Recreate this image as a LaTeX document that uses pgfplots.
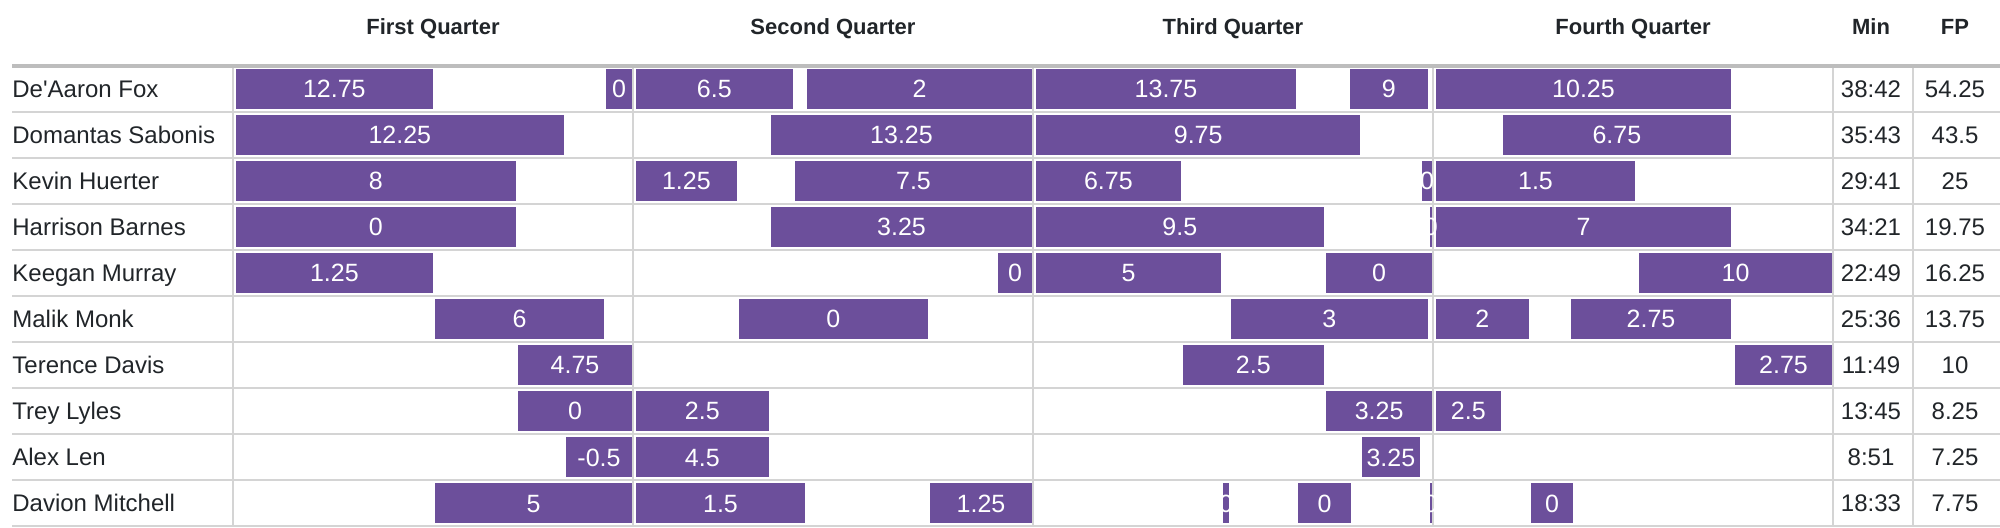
\documentclass[border=0pt]{standalone}
\usepackage{fontspec}
\setmainfont{Liberation Sans}
\newfontfamily\plain{Liberation Sans}
\usepackage{pgfplots}
\usepackage{pgfplotstable}
\pgfplotsset{compat=1.18}

\definecolor{barpurple}{RGB}{108,79,155}
\definecolor{gridgray}{RGB}{212,212,212}
\definecolor{topgray}{RGB}{189,189,189}
\definecolor{textdark}{RGB}{33,37,41}

% one stint per line: row, start and end in game minutes, fantasy points
\pgfplotstableread{
row start end fp
1 0 6.02 12.75
1 11.10 12 0
1 12 16.82 6.5
1 17.13 24 2
1 24 31.92 13.75
1 33.42 35.87 9
1 36 44.97 10.25
2 0 9.95 12.25
2 16.05 24 13.25
2 24 33.85 9.75
2 38.0 44.97 6.75
3 0 8.51 8
3 12 15.14 1.25
3 16.77 24 7.5
3 24 28.46 6.75
3 35.58 36 0
3 36 42.09 1.5
4 0 8.51 0
4 16.05 24 3.25
4 24 32.75 9.5
4 35.81 36 0
4 36 44.97 7
5 0 6.02 1.25
5 22.86 24 0
5 24 29.67 5
5 32.71 36 0
5 42.09 48 10
6 5.97 11.16 6
6 15.09 20.87 0
6 29.85 35.87 3
6 36 38.90 2
6 40.05 44.97 2.75
7 8.46 12 4.75
7 28.41 32.75 2.5
7 44.97 48 2.75
8 8.46 12 0
8 12 16.10 2.5
8 32.71 36 3.25
8 36 38.06 2.5
9 9.90 12 -0.5
9 12 16.10 4.5
9 33.78 35.63 3.25
10 5.97 12 5
10 12 17.19 1.5
10 20.82 24 1.25
10 29.61 29.91 0
10 31.86 33.58 0
10 35.81 36 0
10 38.86 40.23 0
}\stints

\pgfplotstableread[col sep=comma]{
row,name,min,fp
1,De'Aaron Fox,38:42,54.25
2,Domantas Sabonis,35:43,43.5
3,Kevin Huerter,29:41,25
4,Harrison Barnes,34:21,19.75
5,Keegan Murray,22:49,16.25
6,Malik Monk,25:36,13.75
7,Terence Davis,11:49,10
8,Trey Lyles,13:45,8.25
9,Alex Len,8:51,7.25
10,Davion Mitchell,18:33,7.75
}\players

\begin{document}
\plain
\begin{tikzpicture}
\path[use as bounding box] (-6pt,-1pt) rectangle (994pt,263pt);
\begin{axis}[
    at={(0,0)}, anchor=south west,
    width=994pt, height=230pt, scale only axis,
    xmin=-6.63, xmax=53.01,
    ymin=0.5, ymax=10.5, y dir=reverse,
    axis line style={draw=none},
    major tick length=0pt,
    xtick={0,12,24,36,48,50.4}, xticklabels={},
    ytick={1.5,2.5,...,10.5}, yticklabels={},
    extra y ticks={0.5}, extra y tick labels={},
    extra y tick style={grid style={draw=topgray, line width=1.6pt}},
    xmajorgrids, ymajorgrids,
    grid style={draw=gridgray, line width=1.2pt},
    axis on top, clip=false,
]
% stints: horizontal bars drawn as thick x error bars
\addplot [draw=none, mark=none,
    error bars/.cd, x dir=both, x explicit, error mark=none,
    error bar style={line width=19.85pt, draw=barpurple}]
    table [x expr={(\thisrow{start}+\thisrow{end}+0.06)/2}, y=row,
           x error expr={(\thisrow{end}-\thisrow{start}-0.12)/2}] {\stints};
% fantasy points of each stint
\addplot [only marks, mark=none, point meta=explicit symbolic, nodes near coords,
    every node near coord/.append style={anchor=base, yshift=-4.5pt, inner sep=0pt,
        text=white, font=\fontsize{12.5}{14}\selectfont}]
    table [x expr={(\thisrow{start}+\thisrow{end}+0.06)/2}, y=row, meta=fp] {\stints};
% player names
\addplot [only marks, mark=none, point meta=explicit symbolic, nodes near coords,
    every node near coord/.append style={anchor=base west, yshift=-4.3pt, inner sep=0pt,
        text=textdark, font=\fontsize{12}{14}\selectfont}]
    table [x expr={-6.63}, y=row, meta=name] {\players};
% minutes and total
\addplot [only marks, mark=none, point meta=explicit symbolic, nodes near coords,
    every node near coord/.append style={anchor=base, yshift=-4.3pt, inner sep=0pt,
        text=textdark, font=\fontsize{12}{14}\selectfont}]
    table [x expr={49.14}, y=row, meta=min] {\players};
\addplot [only marks, mark=none, point meta=explicit symbolic, nodes near coords,
    every node near coord/.append style={anchor=base, yshift=-4.3pt, inner sep=0pt,
        text=textdark, font=\fontsize{12}{14}\selectfont}]
    table [x expr={51.66}, y=row, meta=fp] {\players};
% column headers
\addplot [only marks, mark=none, point meta=explicit symbolic, nodes near coords,
    every node near coord/.append style={anchor=base, yshift=-4pt, inner sep=0pt,
        text=textdark, font=\fontsize{11}{13}\selectfont\bfseries}]
    coordinates {(6,-0.359) [First Quarter] (18,-0.359) [Second Quarter]
                 (30,-0.359) [Third Quarter] (42,-0.359) [Fourth Quarter]
                 (49.14,-0.359) [Min] (51.66,-0.359) [FP]};
\end{axis}
\end{tikzpicture}
\end{document}
